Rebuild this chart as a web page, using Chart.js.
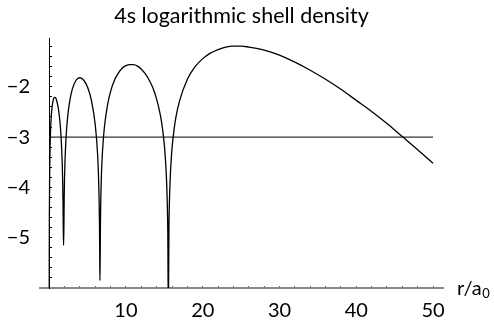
<!DOCTYPE html>
<html>
<head>
<meta charset="utf-8">
<script src="https://cdn.jsdelivr.net/npm/chart.js@4.4.1/dist/chart.umd.min.js"></script>
<style>
  html, body { margin: 0; padding: 0; background: #fff; }
</style>
</head>
<body>
<canvas id="shellChart" width="494" height="322"></canvas>
<script>
'use strict';

// radius r/a0 and log10 of the 4s shell density at that radius
const radii = [
    0.002, 0.005, 0.01, 0.02, 0.05, 0.1, 0.2, 0.3, 0.4, 0.5,
    0.6, 0.7, 0.8, 0.9, 1.0, 1.2, 1.4, 1.5, 1.6, 1.7,
    1.75, 1.8, 1.83, 1.87, 1.91, 1.95, 2.0, 2.05, 2.1, 2.2,
    2.4, 2.7, 3.0, 3.5, 4.0, 4.5, 5.0, 5.5, 6.0, 6.3,
    6.4, 6.5, 6.55, 6.58, 6.61, 6.64, 6.67, 6.7, 6.8, 6.9,
    7.0, 7.2, 7.6, 8.0, 8.5, 9.0, 9.5, 10, 10.5, 11,
    11.5, 12, 12.5, 13, 13.5, 14, 14.5, 14.8, 15, 15.1,
    15.2, 15.3, 15.4, 15.45, 15.52, 15.6, 15.65, 15.7, 15.8, 15.9,
    16, 16.2, 16.5, 17, 18, 19, 20, 21, 22, 23,
    24, 25, 26, 28, 30, 32, 34, 36, 38, 40,
    42, 44, 46, 48, 50
];
const logDensity = [
    -6.60, -5.81, -5.21, -4.62, -3.85, -3.29, -2.78, -2.52, -2.37, -2.28,
    -2.23, -2.21, -2.21, -2.24, -2.29, -2.44, -2.70, -2.89, -3.16, -3.55,
    -3.85, -4.30, -4.79, -5.15, -4.83, -4.22, -3.80, -3.51, -3.30, -2.99,
    -2.60, -2.26, -2.05, -1.87, -1.82, -1.87, -2.01, -2.27, -2.76, -3.33,
    -3.67, -4.23, -4.74, -5.33, -5.85, -5.39, -4.77, -4.41, -3.76, -3.40,
    -3.15, -2.79, -2.36, -2.09, -1.87, -1.73, -1.63, -1.58, -1.56, -1.56,
    -1.59, -1.65, -1.74, -1.86, -2.02, -2.25, -2.58, -2.88, -3.16, -3.35,
    -3.59, -3.91, -4.44, -4.92, -6.50, -4.76, -4.34, -4.07, -3.69, -3.43,
    -3.22, -2.93, -2.61, -2.27, -1.85, -1.60, -1.44, -1.33, -1.26, -1.21,
    -1.19, -1.19, -1.21, -1.27, -1.37, -1.51, -1.67, -1.85, -2.05, -2.27,
    -2.49, -2.73, -2.99, -3.25, -3.52
];

// flat reference level across the radial range
const refLevel = -3;
const refSpan = [0, 50];

const xTickLabels = [10, 20, 30, 40, 50];
const yTickLabels = [-5, -4, -3, -2];

const xRange = [-1.2, 51.3];
const yRange = [-6, -1.03];

function steps(from, to, step) {
    const out = [];
    for (let v = from; v <= to + 1e-9; v += step) {
        out.push(Math.round(v * 10) / 10);
    }
    return out;
}
const xMinorTicks = steps(2, 50, 2);
const yMinorTicks = steps(-5.8, -1.2, 0.2);

const fontFamily = 'Lato, "DejaVu Sans", sans-serif';
const minus = v => (v < 0 ? '\u2212' + Math.abs(v) : String(v));
const setTicks = values => scale => {
    scale.ticks = values.map(v => ({ value: v }));
};

// axis name sits just past the right end of the r axis
const axisName = {
    id: 'axisName',
    afterDraw(chart) {
        const ctx = chart.ctx;
        const x = chart.scales.x.right + 14;
        const y = chart.scales.y.getPixelForValue(yRange[0]) + 7;
        ctx.save();
        ctx.fillStyle = '#000';
        ctx.textBaseline = 'alphabetic';
        ctx.textAlign = 'left';
        ctx.font = '20px ' + fontFamily;
        ctx.fillText('r/a', x, y);
        const w = ctx.measureText('r/a').width;
        ctx.font = '13px ' + fontFamily;
        ctx.fillText('0', x + w + 0.5, y + 3);
        ctx.restore();
    }
};

const ctx = document.getElementById('shellChart').getContext('2d');
const shellChart = new Chart(ctx, {
    type: 'line',
    data: {
        datasets: [{
            label: '4s',
            data: radii.map((r, i) => ({ x: r, y: logDensity[i] })),
            borderColor: '#000',
            borderWidth: 1.3,
            pointRadius: 0,
            cubicInterpolationMode: 'monotone',
            fill: false
        }, {
            label: 'level',
            data: refSpan.map(r => ({ x: r, y: refLevel })),
            borderColor: '#333',
            borderWidth: 1.4,
            pointRadius: 0,
            tension: 0,
            fill: false
        }]
    },
    options: {
        responsive: false,
        animation: false,
        devicePixelRatio: 1,
        layout: { padding: { left: 0, right: 51, top: 0, bottom: 0 } },
        plugins: {
            legend: { display: false },
            tooltip: { enabled: false },
            title: {
                display: true,
                fullSize: false,
                text: '4s logarithmic shell density',
                color: '#000',
                font: { family: fontFamily, size: 21.5, weight: 'normal', lineHeight: 1.2 },
                padding: { top: 3, bottom: 9.2 }
            }
        },
        scales: {
            x: {
                type: 'linear',
                position: 'bottom',
                min: xRange[0],
                max: xRange[1],
                afterBuildTicks: setTicks(xTickLabels),
                afterFit: s => { s.height = 34; },
                border: { display: false },
                grid: { display: false },
                ticks: {
                    color: '#000',
                    padding: 3,
                    maxRotation: 0,
                    font: { family: fontFamily, size: 20 },
                    callback: v => String(v)
                }
            },
            y: {
                type: 'linear',
                position: 'left',
                min: yRange[0],
                max: yRange[1],
                afterBuildTicks: setTicks(yTickLabels),
                afterFit: s => { s.width = 40; },
                border: { display: false },
                grid: { display: false },
                ticks: {
                    color: '#000',
                    padding: 2,
                    font: { family: fontFamily, size: 20 },
                    callback: v => minus(v)
                }
            },
            xAxisLine: {
                axis: 'x',
                type: 'linear',
                position: { y: yRange[0] },
                min: xRange[0],
                max: xRange[1],
                afterBuildTicks: setTicks(xMinorTicks),
                border: { display: true, color: '#888', width: 2 },
                grid: {
                    drawOnChartArea: false,
                    drawTicks: true,
                    tickLength: -3,
                    tickColor: '#555',
                    tickWidth: 1
                },
                ticks: { display: false }
            },
            yAxisLine: {
                axis: 'y',
                type: 'linear',
                position: { x: 0 },
                min: yRange[0],
                max: yRange[1],
                afterBuildTicks: setTicks(yMinorTicks),
                border: { display: true, color: '#000', width: 1 },
                grid: {
                    drawOnChartArea: false,
                    drawTicks: true,
                    tickLength: -3,
                    tickColor: '#000',
                    tickWidth: 1
                },
                ticks: { display: false }
            }
        }
    },
    plugins: [axisName]
});
</script>
</body>
</html>
